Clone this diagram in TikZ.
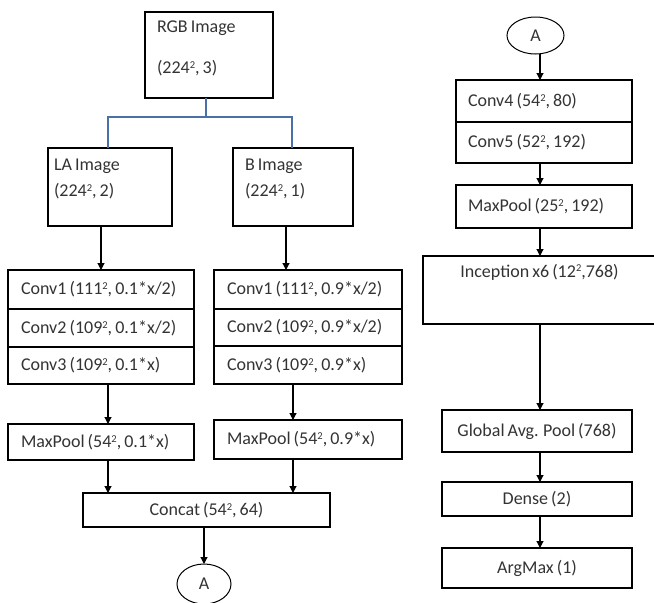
\documentclass[tikz,border=0pt]{standalone}
\usepackage{fontspec}
\setmainfont{Carlito}
\usepackage{tikz}
\usetikzlibrary{arrows.meta,positioning,shapes.geometric}
\definecolor{txtgray}{RGB}{51,51,51}
\definecolor{treeblue}{RGB}{74,112,168}
\newcommand{\tightspace}{\spaceskip=0.17em plus 0.05em\relax}
\newcommand{\sqr}{\raisebox{0.62ex}{\fontsize{10.5}{11}\selectfont 2}}

\begin{document}
\begin{tikzpicture}[
    x=1pt, y=-1pt,
    font=\fontsize{18}{21.6}\selectfont,
    box/.style={rectangle, draw=black, line width=1.1pt, anchor=north west,
                outer sep=0pt, inner ysep=0pt, text=txtgray,
                execute at begin node=\tightspace},
    rowbox/.style={box, align=left, inner xsep=13pt, text width=#1},
    midbox/.style={box, align=center},
    connbox/.style={ellipse, draw=black, line width=1pt, inner sep=0pt,
                    outer sep=0pt, text=txtgray},
    arr/.style={-{Triangle[length=7pt,width=7pt]}, line width=1.1pt},
    tree/.style={treeblue, line width=1.2pt}
  ]
  \useasboundingbox (0,0) rectangle (654,603);

  %% Input image and the two channel groups
  \node[rowbox=104pt, inner xsep=12pt, minimum height=86pt,
        text height=12pt, text depth=58pt] (rgb) at (145,12)
        {RGB Image\\[20pt](224\sqr, 3)};
  \node[rowbox=112pt, inner xsep=6pt, minimum height=78pt,
        text height=12pt, text depth=46pt] (la) at (48,148)
        {LA Image\\[5pt](224\sqr, 2)};
  \node[rowbox=96pt, inner xsep=12pt, minimum height=78pt,
        text height=12pt, text depth=46pt] (bimg) at (233,148)
        {B Image\\[5pt](224\sqr, 1)};

  %% Split lines
  \coordinate (split) at (206,117);
  \coordinate (lbranch) at (108,117);
  \coordinate (rbranch) at (292,117);
  \draw[tree] (rgb.south -| split) -- (split);
  \draw[tree] (lbranch |- la.north) -- (lbranch) -- (rbranch) -- (rbranch |- bimg.north);

  %% LA branch
  \node[rowbox=160pt, minimum height=39pt] (conv1l) at (8,270) {Conv1 (111\sqr, 0.1*x/2)};
  \node[rowbox=160pt, minimum height=38pt, below=0pt of conv1l] (conv2l) {Conv2 (109\sqr, 0.1*x/2)};
  \node[rowbox=160pt, minimum height=37pt, below=0pt of conv2l] (conv3l) {Conv3 (109\sqr, 0.1*x)};
  \node[rowbox=160pt, minimum height=36pt] (pooll) at (8,424) {MaxPool (54\sqr, 0.1*x)};

  %% B branch
  \node[rowbox=162pt, minimum height=39pt] (conv1r) at (214,270) {Conv1 (111\sqr, 0.9*x/2)};
  \node[rowbox=162pt, minimum height=37pt, below=0pt of conv1r] (conv2r) {Conv2 (109\sqr, 0.9*x/2)};
  \node[rowbox=162pt, minimum height=38pt, below=0pt of conv2r] (conv3r) {Conv3 (109\sqr, 0.9*x)};
  \node[rowbox=162pt, minimum height=39pt] (poolr) at (214,420) {MaxPool (54\sqr, 0.9*x)};
  \draw[line width=2pt] (conv1r.south west) -- (conv1r.south east);

  %% Merge
  \node[midbox, minimum width=247pt, minimum height=34pt] (concat) at (83,493) {Concat (54\sqr, 64)};
  \node[connbox, minimum width=54pt, minimum height=40pt] (connl) at (204,584) {A};

  %% Second column
  \node[connbox, minimum width=57pt, minimum height=37pt] (connr) at (535.5,35.5) {A};
  \node[rowbox=152pt, inner xsep=12pt, minimum height=42pt] (conv4) at (456,80) {Conv4 (54\sqr, 80)};
  \node[rowbox=152pt, inner xsep=12pt, minimum height=41pt, below=0pt of conv4] (conv5) {Conv5 (52\sqr, 192)};
  \node[rowbox=152pt, inner xsep=12pt, minimum height=43pt] (pool3) at (456,185) {MaxPool (25\sqr, 192)};
  \node[midbox, minimum width=233pt, minimum height=68pt,
        text height=12pt, text depth=38pt] (incep) at (423,256) {Inception x6 (12\sqr,768)};
  \node[midbox, minimum width=190pt, minimum height=42pt] (gap) at (442,410) {Global Avg. Pool (768)};
  \node[midbox, minimum width=190pt, minimum height=34pt] (dense) at (442,482) {Dense (2)};
  \node[midbox, minimum width=190pt, minimum height=40pt] (argmax) at (442,548) {ArgMax (1)};

  %% Arrows
  \coordinate (lspine) at (108,0);
  \coordinate (rspine) at (293,0);
  \coordinate (mspine) at (540,0);
  \draw[arr] (la.south -| conv1l.north) -- (conv1l.north);
  \draw[arr] ([xshift=-7pt]bimg.south) -- ([xshift=-7pt]bimg.south |- conv1r.north);
  \draw[arr] (conv3l.south -| lspine) -- (pooll.north -| lspine);
  \draw[arr] (conv3r.south -| rspine) -- (poolr.north -| rspine);
  \draw[arr] (pooll.south -| lspine) -- (concat.north -| lspine);
  \draw[arr] (poolr.south -| rspine) -- (concat.north -| rspine);
  \draw[arr] (concat.south -| connl.north) -- (connl.north);
  \draw[arr] (connr.south -| mspine) -- (conv4.north -| mspine);
  \draw[arr] (conv5.south -| mspine) -- (pool3.north -| mspine);
  \draw[arr] (pool3.south -| mspine) -- (incep.north -| mspine);
  \draw[arr] (incep.south -| mspine) -- (gap.north -| mspine);
  \draw[arr] (gap.south -| mspine) -- (dense.north -| mspine);
  \draw[arr] (dense.south -| mspine) -- (argmax.north -| mspine);

\end{tikzpicture}
\end{document}
